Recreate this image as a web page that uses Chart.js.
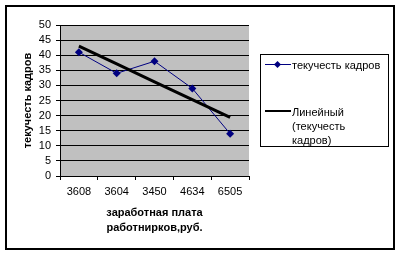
<!DOCTYPE html>
<html><head><meta charset="utf-8">
<script src="https://cdn.jsdelivr.net/npm/chart.js@4/dist/chart.umd.min.js"></script>
<style>
html,body{margin:0;padding:0;background:#fff;}
#wrap{position:relative;width:400px;height:256px;font-family:"Liberation Sans",Arial,sans-serif;}
#frame{position:absolute;left:5px;top:5px;width:386px;height:241px;border:2px solid #000;}
canvas{position:absolute;left:0;top:0;}
#legend{position:absolute;left:260px;top:54px;width:127px;height:91px;border:1px solid #000;font-size:11px;color:#000;}
.ln{position:absolute;left:4px;width:26px;}
.txt{position:absolute;left:31px;line-height:14px;white-space:nowrap;}
.dia{position:absolute;width:5px;height:5px;background:#000080;transform:rotate(45deg);}
</style></head>
<body><div id="wrap">
<div id="frame"></div>
<canvas id="c" width="400" height="256"></canvas>
<div id="legend">
  <div class="ln" style="top:9px;border-top:1px solid #000080;"></div>
  <div class="dia" style="left:14px;top:7px;"></div>
  <div class="txt" style="top:3px;">текучесть кадров</div>
  <div class="ln" style="top:55px;border-top:2px solid #000;"></div>
  <div class="txt" style="top:50px;">Линейный<br>(текучесть<br>кадров)</div>
</div>
</div>
<script>
const categories = ["3608", "3604", "3450", "4634", "6505"];
const turnover = [41, 34, 38, 29, 14];
const trendValues = [43.0, 37.1, 31.2, 25.3, 19.4];
const yTicks = [0, 5, 10, 15, 20, 25, 30, 35, 40, 45, 50];
const yTitle = "текучесть кадров";
const xTitle = ["заработная плата", "работнирков,руб."];

const bgPlugin = {
  id: 'bg',
  beforeDraw(chart) {
    const {ctx, chartArea: a} = chart;
    ctx.save();
    ctx.fillStyle = '#C0C0C0';
    ctx.fillRect(a.left, a.top, a.right - a.left, a.bottom - a.top);
    ctx.restore();
  },
  afterDraw(chart) {
    const {ctx, chartArea: a} = chart;
    ctx.save();
    ctx.fillStyle = '#000';
    ctx.font = 'bold 11px "Liberation Sans", Arial, sans-serif';
    ctx.textAlign = 'center';
    ctx.textBaseline = 'middle';
    ctx.fillText(xTitle[0], (a.left + a.right) / 2, 213);
    ctx.fillText(xTitle[1], (a.left + a.right) / 2, 228);
    ctx.translate(28, (a.top + a.bottom) / 2);
    ctx.rotate(-Math.PI / 2);
    ctx.fillText(yTitle, 0, 0);
    ctx.restore();
  }
};

new Chart(document.getElementById('c'), {
  type: 'line',
  data: {
    labels: categories,
    datasets: [
      {
        label: 'текучесть кадров',
        data: turnover,
        borderColor: '#000080',
        backgroundColor: '#000080',
        borderWidth: 1,
        pointStyle: 'rectRot',
        pointRadius: 4,
        pointBorderWidth: 0,
        tension: 0,
        order: 2
      },
      {
        label: 'Линейный (текучесть кадров)',
        data: trendValues,
        borderColor: '#000',
        borderWidth: 3,
        pointRadius: 0,
        tension: 0,
        order: 1
      }
    ]
  },
  options: {
    responsive: false,
    animation: false,
    devicePixelRatio: 1,
    layout: { padding: { left: 0, right: 151, top: 25, bottom: 0 } },
    plugins: { legend: { display: false }, tooltip: { enabled: false } },
    scales: {
      x: {
        type: 'category',
        offset: true,
        grid: { offset: true, drawOnChartArea: false, drawTicks: true, tickLength: 4, color: '#000' },
        border: { color: '#000', width: 1 },
        ticks: { color: '#000', font: { family: '"Liberation Sans", Arial, sans-serif', size: 11 }, padding: 5, maxRotation: 0 },
        afterFit(s) { s.height = 80; }
      },
      y: {
        min: 0, max: 50,
        afterBuildTicks(s) { s.ticks = yTicks.map(v => ({ value: v })); },
        grid: { color: '#000', drawTicks: true, tickLength: 4 },
        border: { color: '#000', width: 1 },
        ticks: { color: '#000', font: { family: '"Liberation Sans", Arial, sans-serif', size: 11 }, padding: 5, autoSkip: false, stepSize: 5 },
        afterFit(s) { s.width = 60; }
      }
    }
  },
  plugins: [bgPlugin]
});
</script>
</body></html>
